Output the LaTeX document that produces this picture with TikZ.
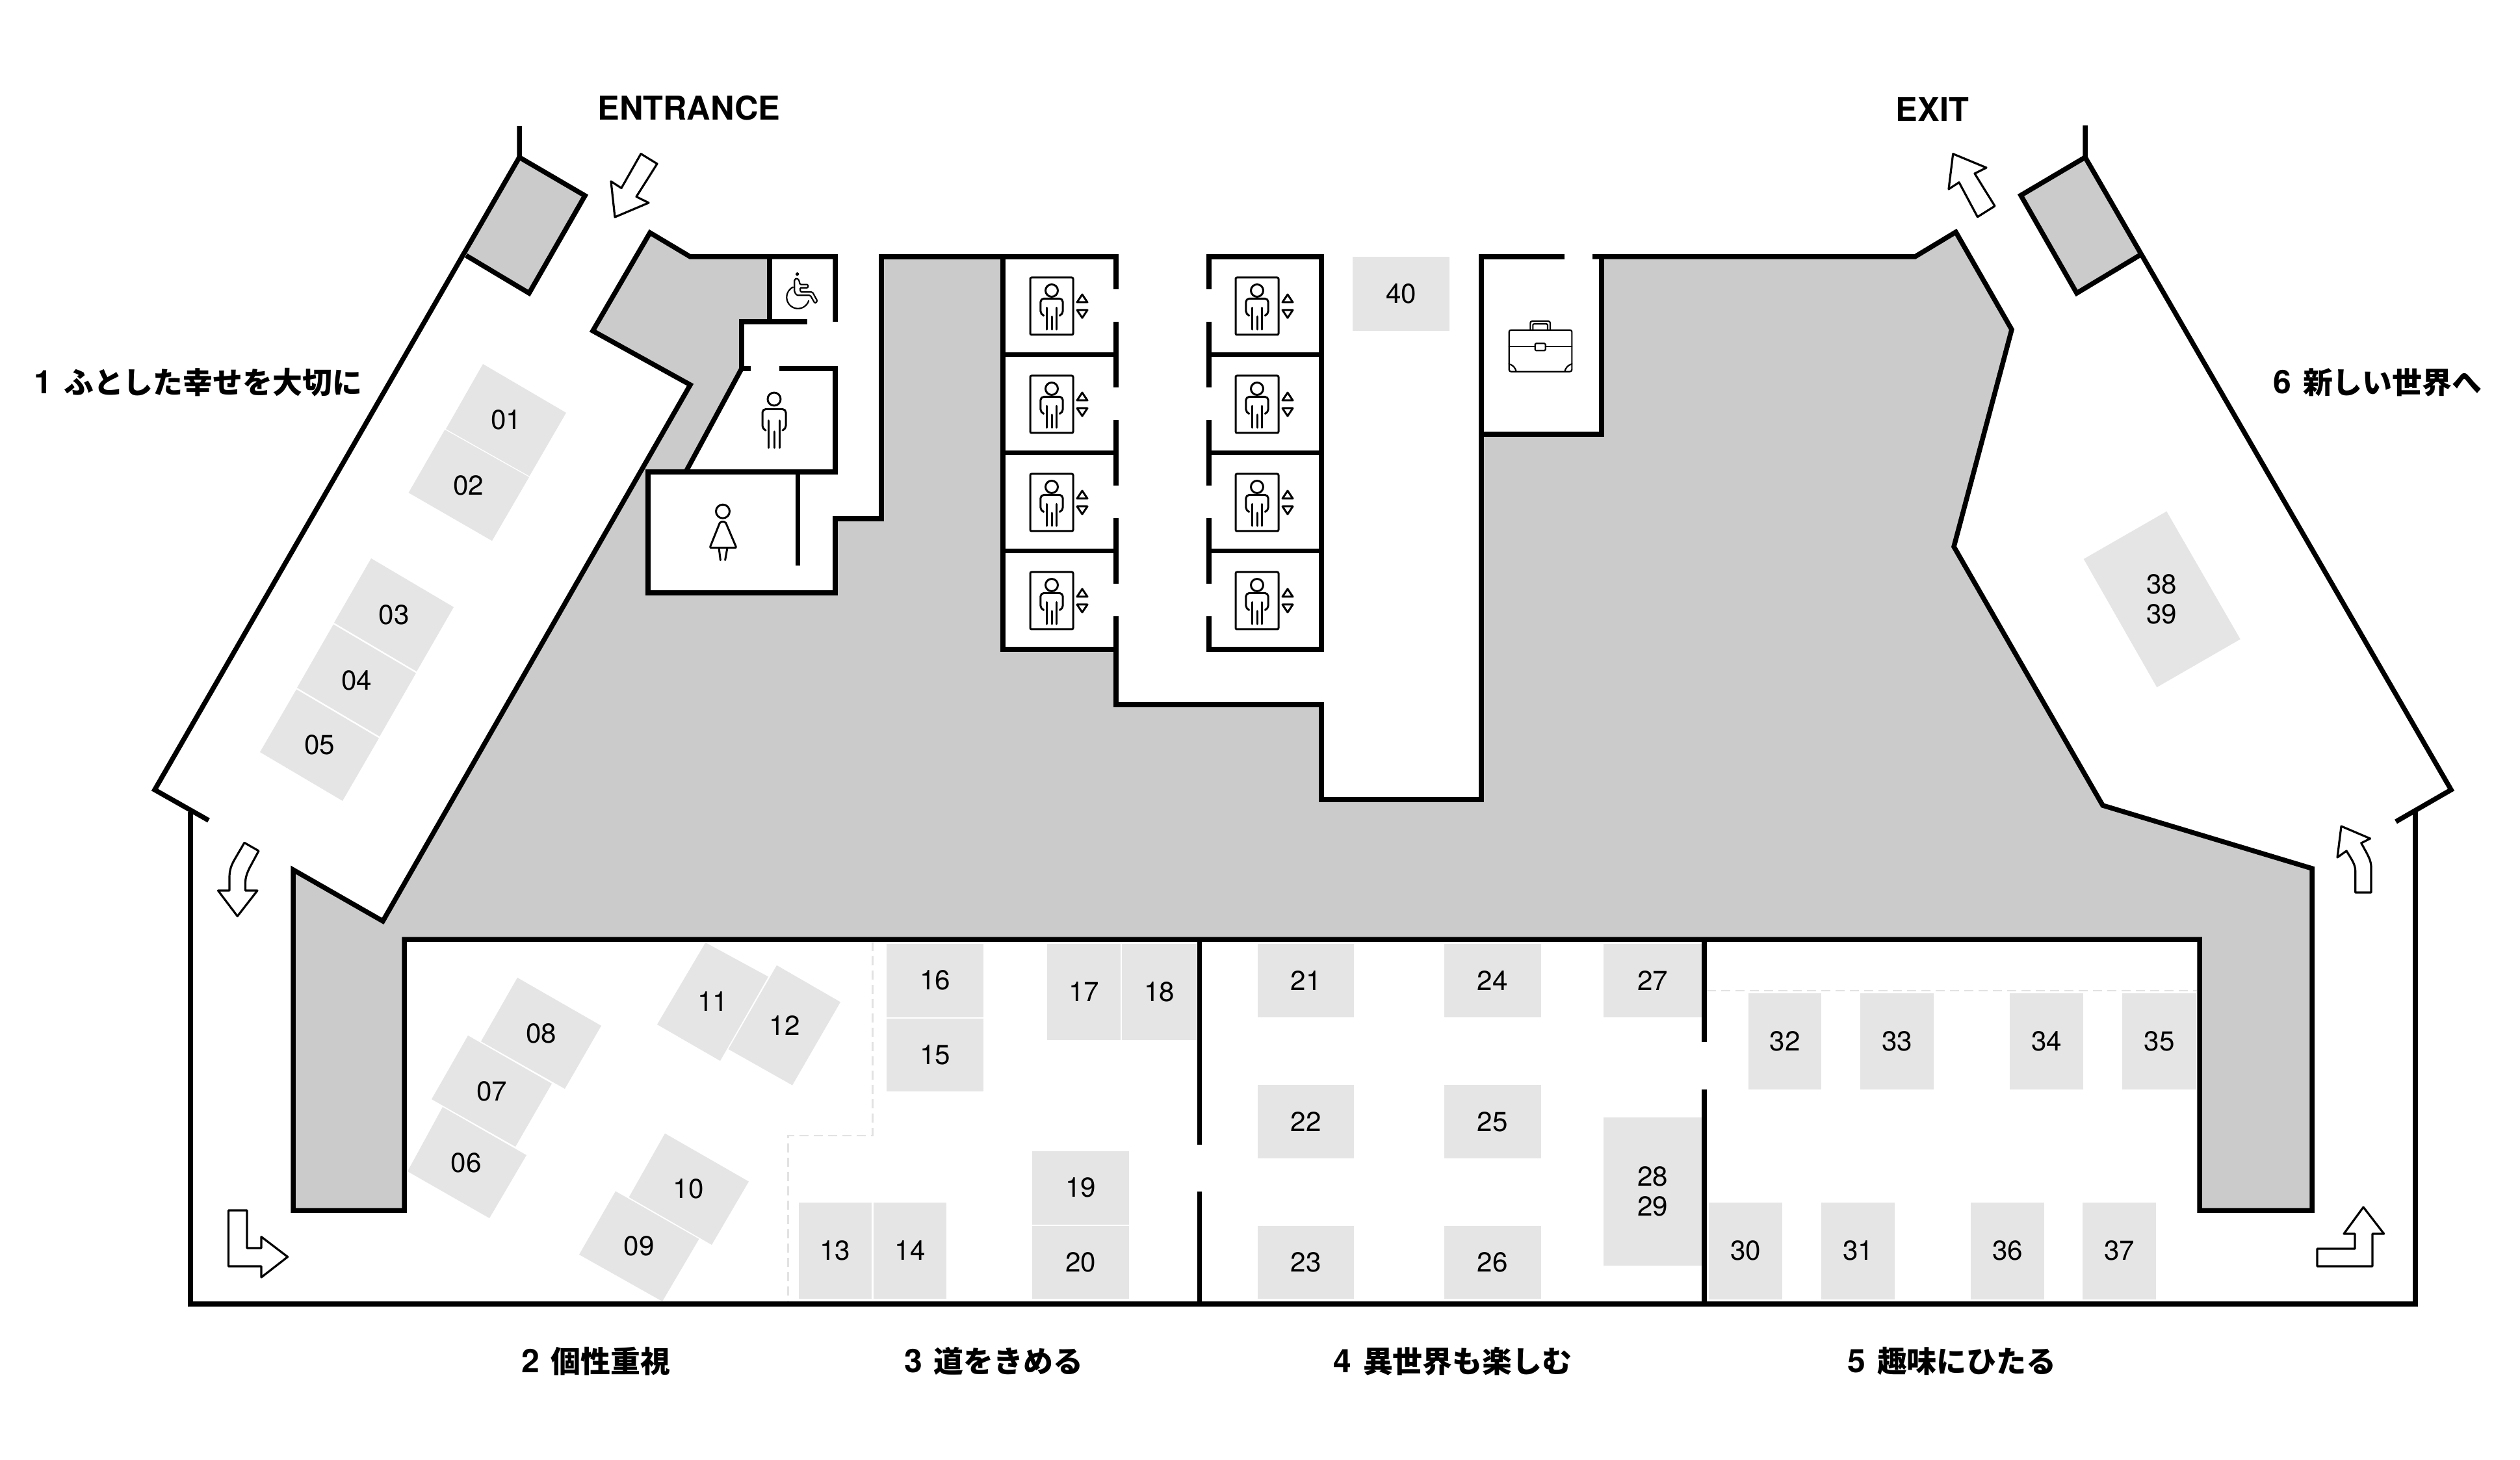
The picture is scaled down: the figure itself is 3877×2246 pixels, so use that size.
\documentclass[tikz,border=0pt]{standalone}
\usepackage{fontspec}
\usetikzlibrary{calc}
\setmainfont{TeX Gyre Heros}
\newfontfamily\cjkfont{Noto Sans CJK JP}
\definecolor{wallgray}{HTML}{CBCBCB}
\definecolor{stallgray}{HTML}{E5E5E5}
\definecolor{dashgray}{HTML}{E2E2E2}
\tikzset{
  wall/.style={line width=0.075cm,line join=miter,miter limit=12},
  stallfill/.style={fill=stallgray},
  stalltext/.style={inner sep=0pt,align=center,font=\fontsize{12}{12.95}\selectfont},
  seclabel/.style={inner sep=0pt,font=\bfseries},
  headlabel/.style={inner sep=0pt,font=\bfseries\fontsize{14.35}{16}\selectfont},
  flowarrow/.style={draw=black,fill=white,line width=0.032cm,line join=round},
  iconline/.style={line width=0.03cm,line cap=round,line join=round},
  thinicon/.style={line width=0.022cm,line cap=round,line join=round},
  dashline/.style={draw=dashgray,line width=0.025cm,dash pattern=on 0.14cm off 0.08cm},
}
% axis-aligned stall: name, x1,y1,x2,y2,text
\newcommand\boxstall[6]{%
  \fill[stallfill] (#2,#3) rectangle (#4,#5);
  \node[stalltext] (#1) at ($(#2,#3)!.5!(#4,#5)$) {#6};}
% rotated stall: name, four corners, text
\newcommand\tiltstall[6]{%
  \fill[stallfill] (#2)--(#3)--(#4)--(#5)--cycle;
  \node[stalltext] (#1) at ($(#2)!.5!(#4)$) {#6};}
\newcommand\seclab[5]{%
  \node[seclabel] (#1) at (#2,#3) {\fontsize{14.2}{16}\selectfont #4\hspace{5pt}{\cjkfont\fontsize{13.05}{15}\selectfont #5}};}
\newcommand\personicon[5]{%
  \draw[iconline] (#1,#2) circle[radius=#5cm];
  \begin{scope}[shift={(#1,#2)},xscale=#3,yscale=#4]
    \draw[iconline,rounded corners=0.05cm] (-13,48)--(-18,46)--(-18,15.5)--(18,15.5)--(18,46)--(13,48);
    \draw[iconline] (-8.3,33)--(-8.3,75) (8.3,33)--(8.3,75) (0,50)--(0,75);
  \end{scope}}
\newcommand\liftcab[2]{%
  \draw[iconline,rounded corners=0.02cm] (#1-33,#2-20) rectangle (#1+33,#2+68);
  \personicon{#1}{#2}{0.95}{0.8}{0.095}
  \draw[iconline] (#1+47,#2+6)--(#1+39,#2+18)--(#1+55,#2+18)--cycle;
  \draw[iconline] (#1+47,#2+42)--(#1+39,#2+30)--(#1+55,#2+30)--cycle;}
\begin{document}
\begin{tikzpicture}[x=0.01cm,y=-0.01cm]
\useasboundingbox (0,0) rectangle (3877,2246);
\fill[white] (0,0) rectangle (3877,2246);
% grey core
\fill[wallgray] (1000,358)--(1062,395)--(1184,395)--(1184,495)--(1141,495)--(1141,567)--(1055,726)--(997,726)--(997,912)--(1285,912)--(1285,798)--(1356,798)--(1356,395)--(1543,395)--(1543,999)--(1717,999)--(1717,1084)--(2033,1084)--(2033,1230)--(2279,1230)--(2279,668)--(2464,668)--(2464,395)--(2946,395)--(3009,357)--(3095,507)--(3006,841)--(3235,1239)--(3557,1336)--(3557,1862)--(3384,1862)--(3384,1445)--(622,1445)--(622,1862)--(451,1862)--(451,1338)--(589,1417)--(1062,592)--(912,509)--cycle;
\fill[wallgray] (799,242)--(900,301)--(814,451)--(717,393)--cycle;
\fill[wallgray] (3208,242)--(3109,300.5)--(3195,451)--(3293,392)--cycle;
% dashed zones
\draw[dashline] (1342.6,1449)--(1342.6,1747)--(1212.5,1747)--(1212.5,2002);
\draw[dashline] (2626,1524)--(3380,1524);
% rotated stalls
\tiltstall{s01}{743,560}{871,635}{814.5,732.5}{686,660}{01}
\tiltstall{s02}{684.4,661}{814,734}{757,832}{628.6,758}{02}
\tiltstall{s03}{571,859}{698,934}{641,1033}{514,958}{03}
\tiltstall{s04}{513,960.5}{640,1035.5}{584,1133}{457,1058}{04}
\tiltstall{s05}{456,1060.5}{583,1135.5}{527,1232}{400,1157}{05}
\tiltstall{s06}{681,1703}{810,1777}{753,1874}{627,1802}{06}
\tiltstall{s07}{720,1593}{849,1667}{793,1764}{664,1691}{07}
\tiltstall{s08}{796,1504}{925,1578}{869,1675}{740,1602}{08}
\tiltstall{s09}{947,1832.5}{1075.5,1906}{1019,2002}{891,1930}{09}
\tiltstall{s10}{1023,1743.6}{1152,1817.6}{1095,1915}{967.6,1841.7}{10}
\tiltstall{s11}{1085.4,1450}{1182,1502.5}{1108,1632}{1011,1576}{11}
\tiltstall{s12}{1195,1485}{1293,1541.5}{1219,1669.5}{1120.6,1614}{12}
\tiltstall{s38}{3333.3,786.7}{3446.7,983.3}{3318.3,1057.3}{3205.7,860}{38\\39}
% straight stalls
\boxstall{s13}{1228.6}{1850}{1341}{1998}{13}
\boxstall{s14}{1344}{1850}{1456}{1998}{14}
\boxstall{s15}{1364}{1566.5}{1513}{1679}{15}
\boxstall{s16}{1364}{1452}{1513}{1564.5}{16}
\boxstall{s17}{1611}{1452}{1724}{1600}{17}
\boxstall{s18}{1726}{1452}{1841}{1600}{18}
\boxstall{s19}{1588}{1771}{1737}{1883.6}{19}
\boxstall{s20}{1588}{1885.5}{1737}{1998}{20}
\boxstall{s21}{1935}{1452}{2083}{1564.5}{21}
\boxstall{s22}{1935}{1669}{2083}{1782}{22}
\boxstall{s23}{1935}{1886}{2083}{1998}{23}
\boxstall{s24}{2222}{1452}{2370.5}{1564.5}{24}
\boxstall{s25}{2222}{1669}{2370.5}{1782}{25}
\boxstall{s26}{2222}{1886}{2370.5}{1998}{26}
\boxstall{s27}{2467}{1452}{2618}{1564.5}{27}
\boxstall{s28}{2467}{1719}{2618}{1947}{28\\29}
\boxstall{s30}{2629}{1850}{2742}{1998.6}{30}
\boxstall{s31}{2802}{1850}{2915}{1998.6}{31}
\boxstall{s32}{2690}{1528}{2802}{1676}{32}
\boxstall{s33}{2862}{1528}{2975}{1676}{33}
\boxstall{s34}{3092}{1528}{3205}{1676}{34}
\boxstall{s35}{3265}{1528}{3379}{1676}{35}
\boxstall{s36}{3032}{1850}{3145}{1998.6}{36}
\boxstall{s37}{3204}{1850}{3317}{1998.6}{37}
\boxstall{s40}{2081}{395.5}{2230}{509}{40}
% outer walls
\draw[wall] (799,194)--(799,242)--(900,301)--(814,451)--(717,393);
\draw[wall] (799,242)--(238,1215)--(321,1262);
\draw[wall] (293,1249)--(293,2006)--(3716,2006)--(3716,1248);
\draw[wall] (3686,1264)--(3771,1215)--(3208,242)--(3208,193);
\draw[wall] (3208,242)--(3109,300.5)--(3195,451)--(3293,392);
% core outline
\draw[wall] (1285,495)--(1285,395)--(1062,395)--(1000,358)--(912,509)--(1062,592)--(589,1417)--(451,1338)--(451,1862)--(622,1862)--(622,1445)--(3384,1445)--(3384,1862)--(3557,1862)--(3557,1336)--(3235,1239)--(3006,841)--(3095,507)--(3009,357)--(2946,395)--(2450,395);
% partitions
\draw[wall] (1845.5,1445)--(1845.5,1761) (1845.5,1833)--(1845.5,2006);
\draw[wall] (2622,1445)--(2622,1603) (2622,1676)--(2622,2006);
% toilets
\draw[wall] (1184,395)--(1184,495);
\draw[wall] (1241.6,495)--(1141,495)--(1141,567)--(1155,567);
\draw[wall] (1141,567)--(1055,726);
\draw[wall] (1199,567)--(1285,567)--(1285,726)--(997,726)--(997,912)--(1285,912)--(1285,798)--(1356,798)--(1356,395)--(1717,395)--(1717,445);
\draw[wall] (1227.5,726)--(1227.5,870);
% lifts
\draw[wall] (1543,395)--(1543,999)--(1717,999);
\draw[wall] (1543,545.5)--(1717,545.5) (1543,696.4)--(1717,696.4) (1543,847.3)--(1717,847.3);
\draw[wall] (1717,495)--(1717,596) (1717,646)--(1717,747) (1717,797)--(1717,898);
\draw[wall] (1717,948)--(1717,1084)--(2033,1084)--(2033,1230)--(2279,1230)--(2279,395)--(2407,395);
\draw[wall] (2279,668)--(2464,668)--(2464,395);
\draw[wall] (1860,445)--(1860,395)--(2033,395)--(2033,999)--(1860,999)--(1860,948);
\draw[wall] (1860,495)--(1860,596) (1860,646)--(1860,747) (1860,797)--(1860,898);
\draw[wall] (1860,545.5)--(2033,545.5) (1860,696.4)--(2033,696.4) (1860,847.3)--(2033,847.3);
\foreach \r in {0,1,2,3}{
  \pgfmathsetmacro{\hy}{447+151*\r}
  \liftcab{1618}{\hy}
  \liftcab{1934}{\hy}
}
% toilet icons
\personicon{1191}{614}{1}{1}{0.1}
\draw[iconline] (1112,786.7) circle[radius=0.105cm];
\begin{scope}[shift={(1112,786.7)}]
  \draw[iconline,rounded corners=0.02cm] (-4,16)--(-20,56)--(21,56)--(4,16)--cycle;
  \draw[iconline] (-6,56)--(-3.6,75) (7,56)--(3.6,75);
\end{scope}
% wheelchair
\begin{scope}[shift={(1190,400)},scale=1/3]
  \draw[thinicon] (110,65) circle[radius=0.053cm];
  \draw[thinicon,rounded corners=0.015cm] (97,90)--(97,148)--(108,163)--(170,163)--(191,200)--(203,190)--(180,148)--(125,148)--(122,128)--(160,128)--(160,113)--(122,113)--(118,93)--(108,84)--cycle;
  \draw[thinicon] plot[domain=244:18,samples=40] ({113+52*cos(\x)},{172+52*sin(\x)});
\end{scope}
% briefcase
\begin{scope}[shift={(2250,370)},scale=1/3]
  \draw[thinicon,rounded corners=0.03cm] (215,413) rectangle (505,605);
  \draw[thinicon] (215,490)--(335,490) (383,490)--(505,490);
  \draw[thinicon,rounded corners=0.015cm] (335,475) rectangle (383,508);
  \draw[thinicon,rounded corners=0.03cm] (313,413)--(313,372)--(405,372)--(405,413);
  \draw[thinicon,rounded corners=0.015cm] (325,413)--(325,385)--(393,385)--(393,413);
  \draw[thinicon] (215,570)..controls (235,575) and (245,590)..(248,605);
  \draw[thinicon] (505,570)..controls (485,575) and (475,590)..(472,605);
\end{scope}
% flow arrows
\draw[flowarrow] (986,236.6)--(1011,252)--(979,302.6)--(998,312)--(946,334)--(940,279)--(956,289.4)--cycle;
\draw[flowarrow] (3004.7,236.7)--(3056,258)--(3038,267)--(3069,317)--(3042.4,333.7)--(3014,280.6)--(2998,291)--cycle;
\draw[flowarrow] (376,1296.4)--(398,1309)--(384,1335)..controls (379,1345) and (377.5,1352)..(377.5,1358)--(377.5,1370)--(396,1370)--(365.3,1409.5)--(335.5,1370)--(353,1370)--(353,1350)..controls (353,1338) and (356,1331)..(361,1322)--cycle;
\draw[flowarrow] (351.5,1862)--(380,1862)--(380,1920)--(402,1920)--(402,1902.6)--(442.6,1933.5)--(402,1965)--(402,1948)--(351.5,1948)--cycle;
\draw[flowarrow] (3636,1857)--(3667.7,1898)--(3650,1898)--(3650,1948)--(3565,1948)--(3565,1921)--(3623,1921)--(3623,1898)--(3606,1898)--cycle;
\draw[flowarrow] (3602,1271)--(3646.5,1290)--(3632.7,1297)--(3640,1310)..controls (3645,1320) and (3648,1325)..(3648,1335)--(3648,1373)--(3623.7,1373)--(3623.7,1340)..controls (3623.7,1330) and (3618,1322)..(3610,1309)--(3596,1319)--cycle;
% labels
\node[headlabel] (entrance) at (1060,166.6) {ENTRANCE};
\node[headlabel] (exit) at (2973,168) {EXIT};
\seclab{sec1}{305}{588}{1}{ふとした幸せを大切に}
\seclab{sec2}{917}{2094}{2}{個性重視}
\seclab{sec3}{1529}{2094}{3}{道をきめる}
\seclab{sec4}{2235}{2094}{4}{異世界も楽しむ}
\seclab{sec5}{3003}{2094}{5}{趣味にひたる}
\seclab{sec6}{3658}{588}{6}{新しい世界へ}
\end{tikzpicture}
\end{document}
